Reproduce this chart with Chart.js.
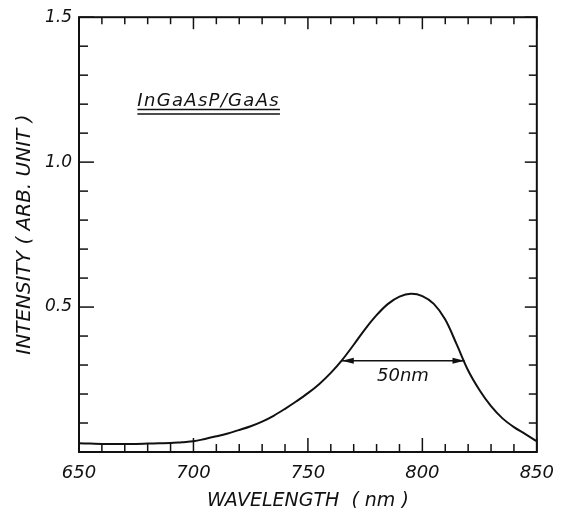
<!DOCTYPE html>
<html>
<head>
<meta charset="utf-8">
<script src="https://cdn.jsdelivr.net/npm/chart.js@4.4.1/dist/chart.umd.min.js"></script>
<style>
html,body{margin:0;padding:0;background:#fff;}
#wrap{width:565px;height:508px;}
</style>
</head>
<body>
<div id="wrap"><canvas id="c" width="565" height="508"></canvas></div>
<script>
// ---- data ----
const wavelengths = [650,655,660,665,670,675,680,685,690,695,700,705,710,715,720,725,730,735,740,745,750,755,760,765,770,775,780,785,790,795,800,805,810,815,820,825,830,835,840,845,850];
const intensity   = [0.030,0.029,0.028,0.028,0.028,0.028,0.029,0.030,0.031,0.034,0.037,0.045,0.054,0.064,0.076,0.089,0.105,0.125,0.149,0.175,0.203,0.235,0.273,0.318,0.370,0.424,0.472,0.511,0.536,0.546,0.538,0.511,0.457,0.371,0.281,0.213,0.158,0.116,0.086,0.062,0.037];
const xLabelValues = [650,700,750,800,850];
const yLabelValues = [0.5,1.0,1.5];
const sampleLabel = 'InGaAsP/GaAs';
const sampleLabelPos = [675.5, 1.195];
const fwhmStart = 764.8, fwhmEnd = 818.4, fwhmLevel = 0.315;
const fwhmText = '50nm';
const fwhmTextPos = [791.5, 0.26];
const xTitle = 'WAVELENGTH  ( nm )';
const yTitle = 'INTENSITY ( ARB. UNIT )';

const INK = '#111';
const points = wavelengths.map((w,i)=>({x:w,y:intensity[i]}));

const framePlugin = {
  id:'frame',
  afterDraw(chart){
    const ctx = chart.ctx, a = chart.chartArea;
    const xs = chart.scales.x, ys = chart.scales.y;
    ctx.save();
    ctx.strokeStyle = INK; ctx.lineWidth = 2;
    ctx.strokeRect(a.left, a.top, a.right-a.left, a.bottom-a.top);
    ctx.lineWidth = 1.5;
    // x ticks every 10 nm, bottom (up) and top (down)
    for(let w=650; w<=850; w+=10){
      const px = xs.getPixelForValue(w);
      const major = w % 50 === 0;
      const lb = major ? 14 : 8, lt = major ? 12 : 7;
      ctx.beginPath(); ctx.moveTo(px, a.bottom); ctx.lineTo(px, a.bottom-lb); ctx.stroke();
      ctx.beginPath(); ctx.moveTo(px, a.top); ctx.lineTo(px, a.top+lt); ctx.stroke();
    }
    // y ticks every 0.1, left (right) and right (left)
    for(let k=0; k<=15; k++){
      const py = ys.getPixelForValue(k/10);
      const major = k % 5 === 0;
      const ll = major ? 15 : 9, lr = major ? 12 : 8;
      ctx.beginPath(); ctx.moveTo(a.left, py); ctx.lineTo(a.left+ll, py); ctx.stroke();
      ctx.beginPath(); ctx.moveTo(a.right, py); ctx.lineTo(a.right-lr, py); ctx.stroke();
    }
    // sample label with double underline
    ctx.fillStyle = INK;
    ctx.font = 'italic 18px "DejaVu Sans"';
    ctx.letterSpacing = '1.3px';
    ctx.textBaseline = 'alphabetic'; ctx.textAlign = 'left';
    const lx = xs.getPixelForValue(sampleLabelPos[0]), ly = ys.getPixelForValue(sampleLabelPos[1]);
    ctx.fillText(sampleLabel, lx, ly);
    const tw = ctx.measureText(sampleLabel).width;
    ctx.lineWidth = 1.5;
    ctx.beginPath(); ctx.moveTo(lx, ly+4); ctx.lineTo(lx+tw, ly+4); ctx.stroke();
    ctx.beginPath(); ctx.moveTo(lx, ly+8.5); ctx.lineTo(lx+tw, ly+8.5); ctx.stroke();
    ctx.letterSpacing = '0px';
    // FWHM arrow
    const x1 = xs.getPixelForValue(fwhmStart), x2 = xs.getPixelForValue(fwhmEnd), fy = ys.getPixelForValue(fwhmLevel);
    ctx.lineWidth = 1.6;
    ctx.beginPath(); ctx.moveTo(x1, fy); ctx.lineTo(x2, fy); ctx.stroke();
    const head = (x, dir) => { ctx.beginPath(); ctx.moveTo(x, fy); ctx.lineTo(x+dir*12, fy-3); ctx.lineTo(x+dir*12, fy+3); ctx.closePath(); ctx.fill(); };
    head(x1, 1); head(x2, -1);
    ctx.font = 'italic 18px "DejaVu Sans"';
    ctx.textAlign = 'center'; ctx.textBaseline = 'middle';
    ctx.fillText(fwhmText, xs.getPixelForValue(fwhmTextPos[0]), ys.getPixelForValue(fwhmTextPos[1]));
    ctx.restore();
  }
};

new Chart(document.getElementById('c'), {
  type:'scatter',
  data:{datasets:[{data:points, showLine:true, borderColor:INK, borderWidth:2, pointRadius:0, tension:0.35, fill:false}]},
  options:{
    responsive:false, animation:false, devicePixelRatio:1,
    layout:{padding:{top:17,right:26,left:0,bottom:0}},
    plugins:{legend:{display:false}, tooltip:{enabled:false}},
    scales:{
      x:{type:'linear', min:650, max:850,
        afterFit(s){ s.height = 56; },
        afterBuildTicks(s){ s.ticks = xLabelValues.map(v=>({value:v})); },
        grid:{display:false, drawTicks:false}, border:{display:false},
        ticks:{color:INK, font:{family:'DejaVu Sans', size:18, style:'italic'}, padding:11, maxRotation:0, autoSkip:false},
        title:{display:true, text:xTitle, color:INK, font:{family:'DejaVu Sans', size:19, style:'italic'}, padding:{top:0,bottom:-4}}
      },
      y:{type:'linear', min:0, max:1.5,
        afterFit(s){ s.width = 79; },
        afterBuildTicks(s){ s.ticks = yLabelValues.map(v=>({value:v})); },
        grid:{display:false, drawTicks:false}, border:{display:false},
        ticks:{color:INK, font:{family:'DejaVu Sans', size:17, style:'italic'}, padding:7, callback:v=>v.toFixed(1)},
        title:{display:true, text:yTitle, color:INK, font:{family:'DejaVu Sans', size:20, style:'italic'}, padding:{top:13,bottom:0}}
      }
    }
  },
  plugins:[framePlugin]
});
</script>
</body>
</html>
